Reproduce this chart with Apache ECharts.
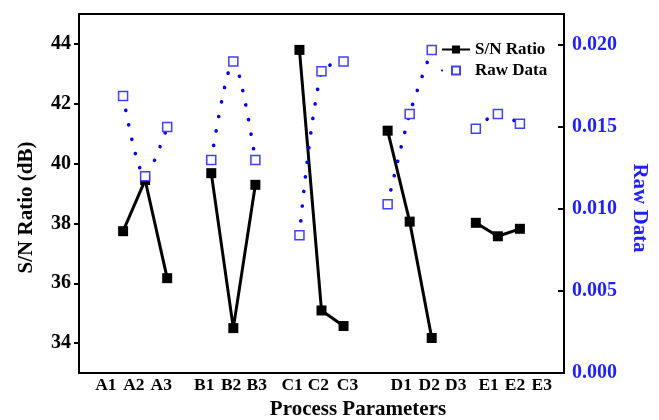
<!DOCTYPE html>
<html><head><meta charset="utf-8">
<script src="https://cdn.jsdelivr.net/npm/echarts@6/dist/echarts.min.js"></script>
<style>html,body{margin:0;padding:0;background:#fff}#c{width:659px;height:420px}</style>
</head><body><div id="c"></div>
<script>
const categories = ['A1','A2','A3','B1','B2','B3','C1','C2','C3','D1','D2','D3','E1','E2','E3'];
const categoryX = [1,2,3,5,6,7,9,10,11,13,14,15,17,18,19];
const snRatio = [37.74,39.45,36.17,39.68,34.50,39.29,43.80,35.09,34.57,41.10,38.06,34.17,38.02,37.57,37.82];
const rawData = [0.0169,0.0120,0.0150,0.0130,0.0190,0.0130,0.0084,0.0184,0.0190,0.0103,0.0158,0.0197,0.0149,0.0158,0.0152];
const tickLabelX = [0.22,1.49,2.73,4.68,5.90,7.06,8.67,9.86,11.18,13.62,14.89,16.09,17.58,18.78,19.99];
const snTicks = [34,36,38,40,42,44];
const rawTicks = [0,0.005,0.010,0.015,0.020];

const FONT = 'Liberation Serif';
const BLUE_TEXT = '#1f1fff';
const BLUE_SQ = '#4040ff';
const BLUE_DOT = '#0000f0';

function withGaps(values){
  const out = [];
  for (let i = 0; i < values.length; i++) {
    if (i > 0 && categoryX[i] - categoryX[i-1] > 1) out.push([categoryX[i] - 1, '-']);
    out.push([categoryX[i], values[i]]);
  }
  return out;
}
function nearestLabel(v){
  let best = 0, d = Infinity;
  tickLabelX.forEach((x, i) => { const dd = Math.abs(x - v); if (dd < d) { d = dd; best = i; } });
  return categories[best];
}

const chart = echarts.init(document.getElementById('c'));
chart.setOption({
  animation: false,
  backgroundColor: '#fff',
  grid: { left: 79, right: 95, top: 14, bottom: 47, show: true, borderColor: '#000', borderWidth: 2, backgroundColor: 'transparent' },
  legend: {
    orient: 'vertical', left: 436, top: 36, itemWidth: 28, itemHeight: 10, itemGap: 4,
    data: ['S/N Ratio', 'Raw Data'],
    textStyle: { fontFamily: FONT, fontWeight: 'bold', fontSize: 17, color: '#000' }
  },
  xAxis: {
    type: 'value', min: -1, max: 21,
    axisLine: { show: true, onZero: false, lineStyle: { color: '#000', width: 2 } },
    axisTick: { show: false },
    splitLine: { show: false },
    axisLabel: {
      customValues: tickLabelX, formatter: v => nearestLabel(v), margin: 3,
      fontFamily: FONT, fontWeight: 'bold', fontSize: 17.5, color: '#000'
    }
  },
  yAxis: [{
    type: 'value', min: 33, max: 45, position: 'left',
    axisLine: { show: true, onZero: false, lineStyle: { color: '#000', width: 2 } },
    axisTick: { show: true, inside: false, length: 5, customValues: snTicks, lineStyle: { color: '#000', width: 2 } },
    splitLine: { show: false },
    axisLabel: { customValues: snTicks, margin: 8, fontFamily: FONT, fontWeight: 'bold', fontSize: 20, color: '#000' }
  }, {
    type: 'value', min: 0, max: 0.0219, position: 'right',
    axisLine: { show: true, onZero: false, lineStyle: { color: '#000', width: 2 } },
    axisTick: { show: true, inside: true, length: 6, customValues: rawTicks, lineStyle: { color: '#000', width: 2 } },
    splitLine: { show: false },
    axisLabel: { customValues: rawTicks, formatter: v => v.toFixed(3), margin: 8, fontFamily: FONT, fontWeight: 'bold', fontSize: 20, color: BLUE_TEXT }
  }],
  series: [{
    name: 'S/N Ratio', type: 'line', yAxisIndex: 0,
    data: withGaps(snRatio),
    symbol: 'rect', symbolSize: 10,
    itemStyle: { color: '#000' },
    lineStyle: { color: '#000', width: 3 },
    connectNulls: false, z: 2
  }, {
    name: 'Raw Data', type: 'line', yAxisIndex: 1,
    data: withGaps(rawData),
    smooth: 0.3,
    symbol: 'rect', symbolSize: 9,
    itemStyle: { color: '#fff', borderColor: BLUE_SQ, borderWidth: 1.5 },
    lineStyle: { color: BLUE_DOT, width: 3.6, type: [0.1, 14.6], cap: 'round' },
    connectNulls: false, z: 3
  }],
  graphic: [
    { type: 'text', x: 27, y: 207.5, rotation: Math.PI / 2,
      style: { text: 'S/N Ratio (dB)', font: 'bold 21px "Liberation Serif"', fill: '#000', textAlign: 'center', textVerticalAlign: 'middle' } },
    { type: 'text', x: 639, y: 208, rotation: -Math.PI / 2,
      style: { text: 'Raw Data', font: 'bold 21px "Liberation Serif"', fill: BLUE_TEXT, textAlign: 'center', textVerticalAlign: 'middle' } },
    { type: 'text', x: 358, y: 410,
      style: { text: 'Process Parameters', font: 'bold 21px "Liberation Serif"', fill: '#000', textAlign: 'center', textVerticalAlign: 'middle' } }
  ]
});
</script></body></html>
